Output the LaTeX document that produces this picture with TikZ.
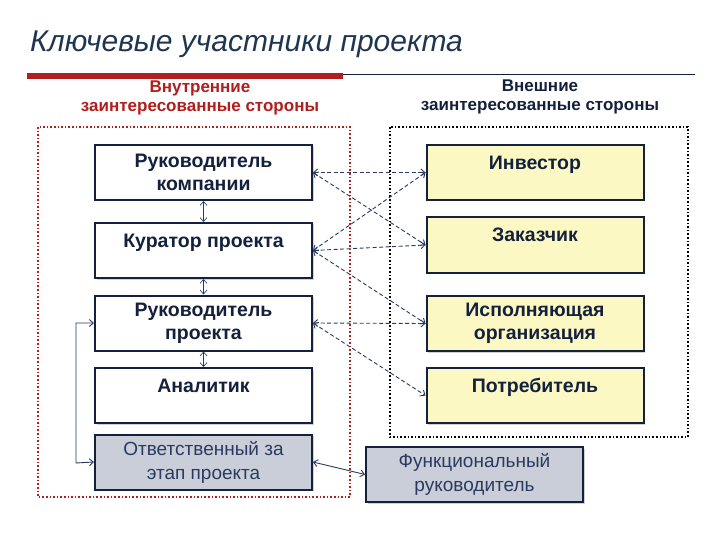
\documentclass[tikz,border=0pt]{standalone}
\usepackage{fontspec}
\setmainfont{Liberation Sans}
\usetikzlibrary{arrows.meta,shadows}
\definecolor{navy}{HTML}{14213D}
\definecolor{ttl}{HTML}{1E3650}
\definecolor{redc}{HTML}{B01E1E}
\definecolor{yel}{HTML}{FBF8C4}
\definecolor{gry}{HTML}{C9CED8}
\definecolor{lnk}{HTML}{2A3A60}
\begin{document}
\begin{tikzpicture}[x=1pt,y=-1pt,
  box/.style={draw=navy,line width=2pt,minimum width=217pt,minimum height=55pt,inner sep=0pt,
     font=\fontsize{19.5}{23}\selectfont\bfseries,text=navy,align=center,
     drop shadow={shadow xshift=1.5pt,shadow yshift=-1.5pt,opacity=0.35}},
  one/.style={text depth=20pt},
  wbox/.style={box,fill=white},
  ybox/.style={box,fill=yel},
  gbox/.style={box,fill=gry,font=\fontsize{19}{24}\selectfont,text=lnk},
  dlink/.style={dashed,dash pattern=on 4pt off 2.5pt,line width=0.9pt,draw=lnk,{Straight Barb[length=4pt,width=7pt]}-{Straight Barb[length=4pt,width=7pt]}},
  slink/.style={line width=0.9pt,draw=lnk,{Straight Barb[length=4pt,width=7pt]}-{Straight Barb[length=4pt,width=7pt]}},
  hdr/.style={font=\fontsize{17}{19}\selectfont\bfseries,align=center}
]
\useasboundingbox (0,0) rectangle (720,540);
\fill[white] (0,0) rectangle (720,540);
% title
\node[anchor=base west,inner sep=0pt,text=ttl,font=\fontsize{30}{34}\selectfont\itshape] (title) at (30,52) {Ключевые участники проекта};
% rule
\fill[redc] (27,73) rectangle (343,79);
\draw[line width=0.8pt,navy] (343,74) -- (695,74);
% headers
\node[hdr,text=redc] (hl) at (200,98) {Внутренние\\заинтересованные стороны};
\node[hdr,text=navy] (hr) at (540,97) {Внешние\\заинтересованные стороны};
% dotted frames
\draw[redc,dotted,line width=1.6pt] (38,127) rectangle (350,497);
\draw[black,dotted,line width=1.6pt] (390,127) rectangle (688,437);
% left boxes
\node[wbox] (b1) at (203.5,172.5) {Руководитель\\компании};
\node[wbox,one] (b2) at (203.5,250.5) {Куратор проекта};
\node[wbox] (b3) at (203.5,323) {Руководитель\\проекта};
\node[wbox,one] (b4) at (203.5,395.5) {Аналитик};
\node[gbox] (b5) at (203.5,462) {Ответственный за\\этап проекта};
% right boxes
\node[ybox,one] (r1) at (535,172.5) {Инвестор};
\node[ybox,one] (r2) at (535,245) {Заказчик};
\node[ybox] (r3) at (535,323.5) {Исполняющая\\организация};
\node[ybox,one] (r4) at (535,395.5) {Потребитель};
\node[gbox] (f) at (474.5,474.5) {Функциональный\\руководитель};
% vertical links
\draw[slink,line width=0.6pt] (b1.south) -- (b2.north);
\draw[slink,line width=0.6pt] (b2.south) -- (b3.north);
\draw[slink,line width=0.6pt] (b3.south) -- (b4.north);
% bracket
\coordinate (k1) at (76,323);
\coordinate (k2) at (76,463);
\draw[slink] (b3.west) -- (k1) -- (k2) -- (b5.west);
% dashed links
\draw[dlink] (b1.east) -- (r1.west);
\draw[dlink] (b1.east) -- (r2.west);
\draw[dlink] (b2.east) -- (r1.west);
\draw[dlink] (b2.east) -- (r2.west);
\draw[dlink] (b2.east) -- (r3.west);
\draw[dlink] (b3.east) -- (r3.west);
\draw[dlink] (b3.east) -- (r4.west);
% solid link to functional
\draw[slink] (b5.east) -- (f.west);
\end{tikzpicture}
\end{document}
